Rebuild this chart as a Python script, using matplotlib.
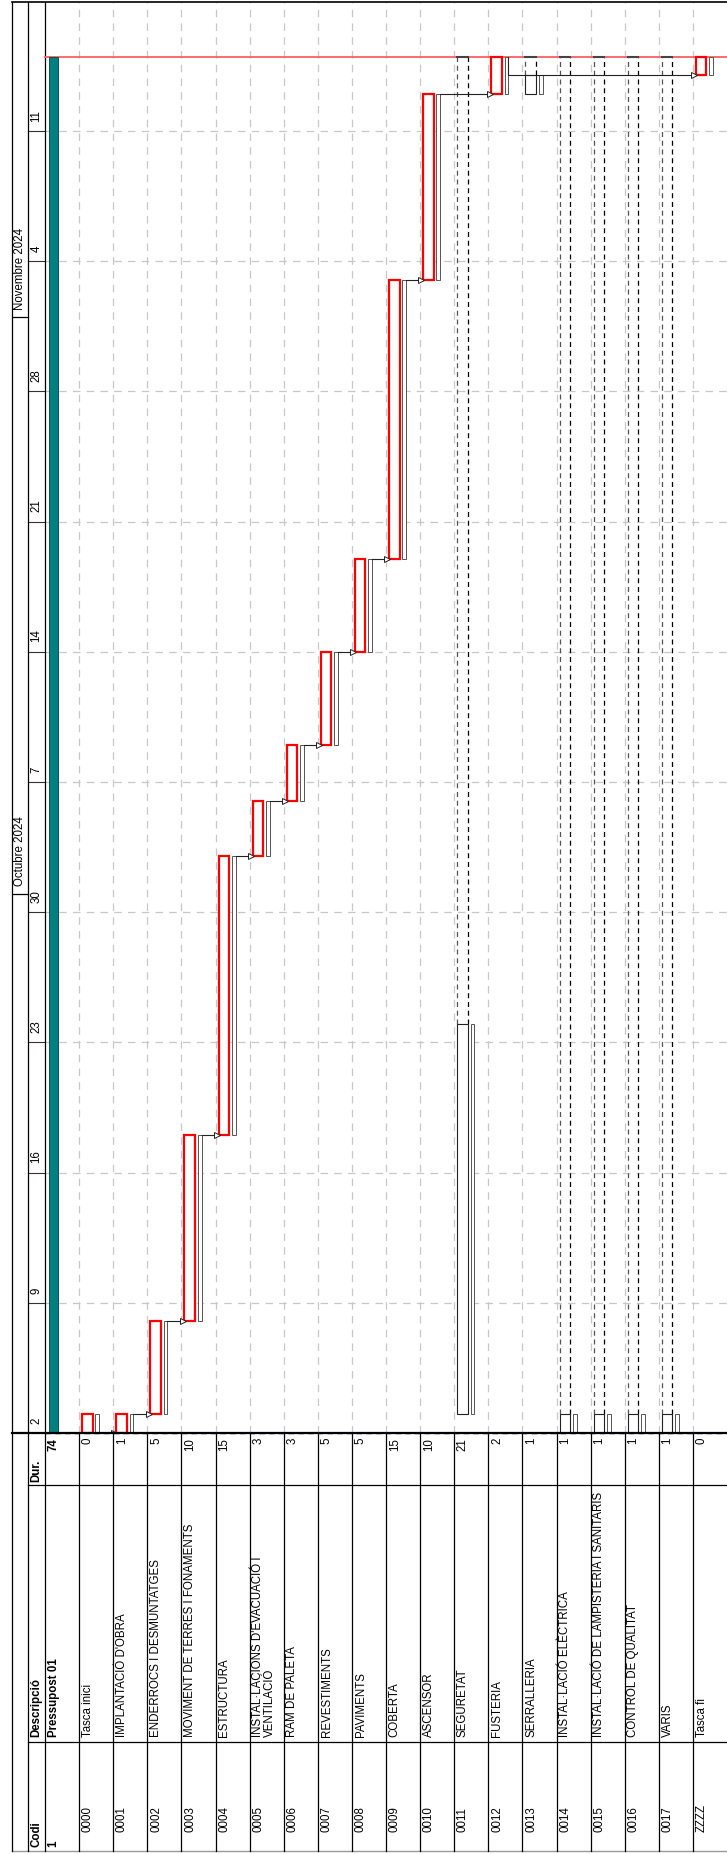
import numpy as np
import matplotlib.pyplot as plt

plt.rcParams['font.family'] = ['Liberation Sans', 'DejaVu Sans']

# task table
codes = ['0000', '0001', '0002', '0003', '0004', '0005', '0006', '0007', '0008', '0009',
         '0010', '0011', '0012', '0013', '0014', '0015', '0016', '0017', 'ZZZZ']
descs = ['Tasca inici', "IMPLANTACIÓ D'OBRA", 'ENDERROCS I DESMUNTATGES',
         'MOVIMENT DE TERRES I FONAMENTS', 'ESTRUCTURA',
         "INSTAL·LACIONS D'EVACUACIÓ I\nVENTILACIÓ", 'RAM DE PALETA', 'REVESTIMENTS',
         'PAVIMENTS', 'COBERTA', 'ASCENSOR', 'SEGURETAT', 'FUSTERIA', 'SERRALLERIA',
         'INSTAL·LACIÓ ELÈCTRICA', 'INSTAL·LACIÓ DE LAMPISTERIA I SANITARIS',
         'CONTROL DE QUALITAT', 'VARIS', 'Tasca fi']
durs = [0, 1, 5, 10, 15, 3, 3, 5, 5, 15, 10, 21, 2, 1, 1, 1, 1, 1, 0]
starts = [0, 0, 1, 6, 16, 31, 34, 37, 42, 47, 62, 1, 72, 72, 0, 0, 0, 0, 74]
critical = [1, 1, 1, 1, 1, 1, 1, 1, 1, 1, 1, 0, 1, 0, 0, 0, 0, 0, 1]
# links: (pred, succ, day)
links = [(0, 1, 0), (1, 2, 1), (2, 3, 6), (3, 4, 16), (4, 5, 31), (5, 6, 34),
         (6, 7, 37), (7, 8, 42), (8, 9, 47), (9, 10, 62), (10, 12, 72)]

summary_code = '1'
summary_desc = 'Pressupost 01'
summary_dur = 74
project_end = 74

week_labels = ['2', '9', '16', '23', '30', '7', '14', '21', '28', '4', '11']
week_days = [0, 7, 14, 21, 28, 35, 42, 49, 56, 63, 70]
month_labels = ['Octubre 2024', 'Novembre 2024']
month_days = [29, 60]

# layout (pixels of a 727x1854 image)
W, H = 727, 1854
ROW = 34.1
X0 = 45
XL = (12 - X0) / ROW
XM = (28 - X0) / ROW
Y_CHART = 1433
YMAX = (Y_CHART - 2) / 18.6
grid_c = '#c8c8c8'
FS = 8.3

fig = plt.figure(figsize=(W / 100, H / 100), dpi=100)
ax = fig.add_axes([12 / W, (H - Y_CHART) / H, (W - 12) / W, (Y_CHART - 2) / H])
tb = fig.add_axes([12 / W, (H - 1851) / H, (W - 12) / W, (1851 - Y_CHART) / H])
for a in (ax, tb):
    a.set_xlim(XL, 20)
    a.axis('off')
ax.set_ylim(0, YMAX)
tb.set_ylim(1851, Y_CHART)

n = len(codes)
rows = np.arange(n) + 1

# grid
for d in week_days:
    ax.plot([0, 20], [d, d], color=grid_c, lw=0.9, ls=(0, (6, 5)), zorder=1)
    ax.plot([XM, 0], [d, d], color='#333333', lw=0.8, zorder=2)
for u in range(1, 20):
    ax.plot([u, u], [0, YMAX], color=grid_c, lw=0.9, ls=(0, (6, 5)), zorder=1)
for u in (XL, XM, 0):
    ax.plot([u, u], [0, YMAX], color='black', lw=0.9, zorder=3, clip_on=False)
ax.plot([XL, 20], [YMAX, YMAX], color='black', lw=1.2, clip_on=False)

# header labels
for d, lab in zip(week_days, week_labels):
    ax.text((XM + 0) / 2, d + 0.5, lab, rotation=90, rotation_mode='anchor',
            ha='left', va='center', fontsize=FS)
for d, lab in zip(month_days, month_labels):
    ax.plot([XL, XM], [d, d], color='black', lw=0.9)
    ax.text((XL + XM) / 2, d + 0.4, lab, rotation=90, rotation_mode='anchor',
            ha='left', va='center', fontsize=FS)

# project end line
ax.plot([0, 20], [project_end, project_end], color='#ff6060', lw=1.3, zorder=4)

# summary bar
ax.bar(0.245, summary_dur, width=0.27, bottom=0, color='#008080',
       edgecolor='#004040', lw=0.6, zorder=5)

# task bars
b0 = []
b1 = []
for s, d in zip(starts, durs):
    if d == 0:
        s = s if s == 0 else s - 1
        d = 1
    b0.append(s)
    b1.append(s + d)
b0 = np.array(b0)
b1 = np.array(b1)
crit = np.array(critical, dtype=bool)

ax.bar(rows + 0.535, b1 - b0, width=0.11, bottom=b0, facecolor='white',
       edgecolor='#555555', lw=0.7, zorder=5)
ax.bar(rows[crit] + 0.242, (b1 - b0)[crit], width=0.308, bottom=b0[crit],
       facecolor='white', edgecolor='red', lw=1.6, zorder=6)
ax.bar(rows[~crit] + 0.242, (b1 - b0)[~crit], width=0.308, bottom=b0[~crit],
       facecolor='white', edgecolor='#222222', lw=0.8, zorder=6)

# float (slack) for non critical tasks
for r, e in zip(rows[~crit], b1[~crit]):
    ax.plot([r + 0.088, r + 0.088], [e, project_end], color='#555555', lw=0.9,
            ls=(0, (4, 3)), zorder=4)
    ax.plot([r + 0.396, r + 0.396], [e, project_end], color='black', lw=0.9,
            ls=(0, (4, 3)), zorder=4)
    ax.plot([r + 0.088, r + 0.396], [project_end, project_end], color='#444444',
            lw=1.5, zorder=5)

# links
for p, s, d in links:
    xa = rows[p] + 0.59
    xb = rows[s] + 0.088
    ax.plot([xa, xb], [d, d], color='#222222', lw=0.8, zorder=7)
    ax.plot(xb - 0.05, d, marker='>', ms=4, mfc='white', mec='#222222',
            mew=0.7, zorder=8)
# last link to the final milestone
xa = rows[12] + 0.59
xb = rows[18] + 0.088
ax.plot([xa, xa, xb], [project_end, b0[18], b0[18]], color='#222222', lw=0.8, zorder=7)
ax.plot(xb - 0.05, b0[18], marker='>', ms=4, mfc='white', mec='#222222',
        mew=0.7, zorder=8)

# table
tb.plot([XL, 20], [Y_CHART, Y_CHART], color='black', lw=1.6, clip_on=False)
ax.plot([0, 20], [0, 0], color='#000080', lw=1.0, ls=(0, (4, 3)), zorder=9,
        clip_on=False)
tb.plot([XL, 20], [1851, 1851], color='#999999', lw=1.0, clip_on=False)
for u in [XL, XM] + list(range(0, 20)):
    tb.plot([u, u], [Y_CHART, 1851], color='black', lw=0.9, clip_on=False)
for yy in (1485, 1742):
    tb.plot([XM, 20], [yy, yy], color='black', lw=0.9)

hx = (XM + 0) / 2
for txt, yy, ha in (('Codi', 1847, 'left'), ('Descripció', 1737, 'left'),
                    ('Dur.', 1482, 'left')):
    tb.text(hx, yy, txt, rotation=90, rotation_mode='anchor', ha=ha,
            va='center', fontsize=FS, fontweight='bold')
tb.text(0.08, 1847, summary_code, rotation=90, rotation_mode='anchor',
        ha='left', va='top', fontsize=FS, fontweight='bold')
tb.text(0.08, 1737, summary_desc, rotation=90, rotation_mode='anchor',
        ha='left', va='top', fontsize=FS, fontweight='bold')
tb.text(0.08, 1438, str(summary_dur), rotation=90, rotation_mode='anchor',
        ha='right', va='top', fontsize=FS, fontweight='bold')
for r, c, ds, du in zip(rows, codes, descs, durs):
    tb.text(r + 0.08, 1832, c, rotation=90, rotation_mode='anchor',
            ha='left', va='top', fontsize=FS)
    tb.text(r + 0.08, 1737, ds, rotation=90, rotation_mode='anchor',
            ha='left', va='top', fontsize=FS, linespacing=0.95)
    tb.text(r + 0.08, 1438, str(du), rotation=90, rotation_mode='anchor',
            ha='right', va='top', fontsize=FS)

fig.savefig('out.png', dpi=100)
